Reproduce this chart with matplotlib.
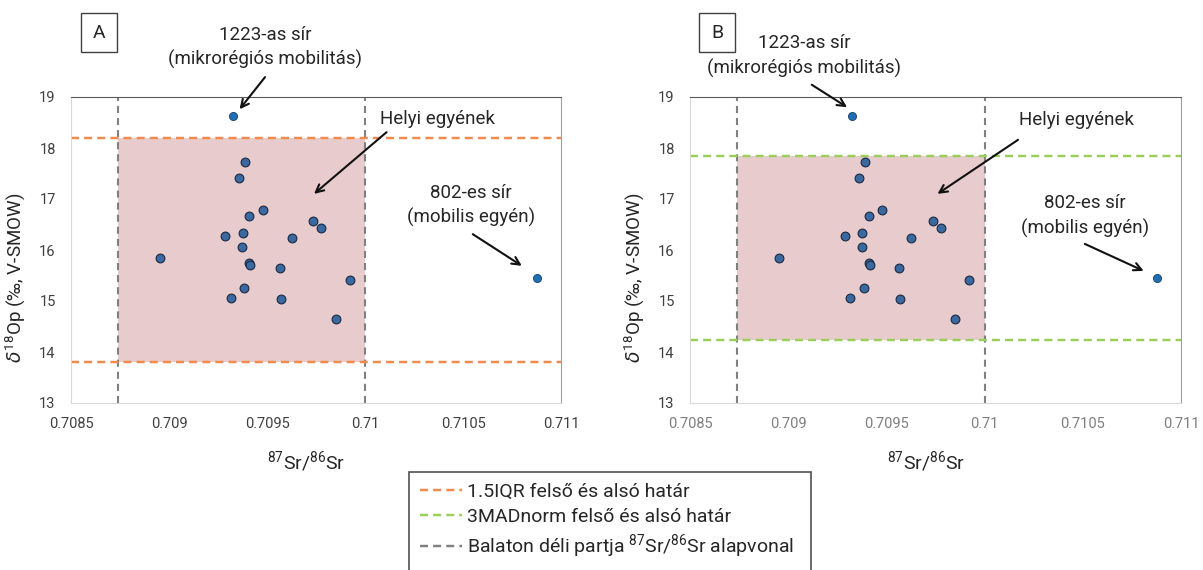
import matplotlib
matplotlib.use('Agg')
import matplotlib.pyplot as plt
from matplotlib.lines import Line2D
from matplotlib.patches import Rectangle

plt.rcParams['font.family'] = ['Roboto', 'DejaVu Sans']
plt.rcParams['mathtext.fontset'] = 'custom'
plt.rcParams['mathtext.rm'] = 'Roboto'
plt.rcParams['mathtext.it'] = 'DejaVu Sans:italic'
plt.rcParams['mathtext.default'] = 'regular'

# local individuals (87Sr/86Sr, d18Op)
local_sr = [0.709389, 0.709358, 0.709480, 0.709410, 0.709735, 0.709776, 0.709376,
            0.709288, 0.709626, 0.709374, 0.708954, 0.709409, 0.709414, 0.709566,
            0.709923, 0.709385, 0.709316, 0.709569, 0.709850]
local_o = [17.73, 17.42, 16.78, 16.66, 16.56, 16.44, 16.34, 16.27, 16.23, 16.05,
           15.85, 15.75, 15.71, 15.65, 15.41, 15.25, 15.05, 15.03, 14.65]

# outliers: grave 1223 and grave 802
out_sr = [0.709327, 0.710878]
out_o = [18.63, 15.45]

# baseline and limits
sr_base = [0.708740, 0.710000]
iqr_limits = [13.80, 18.20]
mad_limits = [14.24, 17.85]

xticks = [0.7085, 0.709, 0.7095, 0.71, 0.7105, 0.711]
xticklabels = ['0.7085', '0.709', '0.7095', '0.71', '0.7105', '0.711']
yticks = [13, 14, 15, 16, 17, 18, 19]

orange = '#F28A4C'
green = '#9ACD5A'
grey = '#808080'

fig = plt.figure(figsize=(12.03, 5.70), dpi=100)

W, H = 1203, 570


def panel(left_px, right_px, limits, lcolor, xlab_color, label, box_px, texts, arrows):
    ax = fig.add_axes([left_px / W, (H - 403) / H, (right_px - left_px) / W, 306 / H])
    ax.set_xlim(0.7085, 0.711)
    ax.set_ylim(13, 19)
    ax.add_patch(Rectangle((sr_base[0], limits[0]), sr_base[1] - sr_base[0],
                           limits[1] - limits[0], facecolor='#E8CCCD', edgecolor='none', zorder=1))
    for v in sr_base:
        ax.axvline(v, color=grey, lw=1.5, dashes=(3.4, 2.4), zorder=2)
    for h in limits:
        ax.axhline(h, color=lcolor, lw=1.75, dashes=(3.3, 2.1), zorder=2)
    ax.scatter(local_sr, local_o, s=40, facecolor='#3A68A0', edgecolor='#1C2940',
               linewidth=0.8, zorder=4)
    ax.scatter(out_sr, out_o, s=34, facecolor='#1F6FB8', edgecolor='#1A3D66',
               linewidth=0.6, zorder=4)
    ax.set_xticks(xticks)
    ax.set_xticklabels(xticklabels)
    ax.set_yticks(yticks)
    ax.tick_params(length=0, labelsize=10.5)
    ax.tick_params(axis='x', pad=10, labelcolor=xlab_color)
    ax.tick_params(axis='y', pad=11, labelcolor='#404040')
    ax.spines['left'].set_color('#D9D9D9')
    ax.spines['bottom'].set_color('#D9D9D9')
    ax.spines['top'].set_color('#5A5A5A')
    ax.spines['right'].set_color('#A0A0A0')
    ax.set_xlabel(r'$^{87}$Sr/$^{86}$Sr', fontsize=14, color='#262626', labelpad=11)
    ax.xaxis.set_label_coords(0.48, -0.15)
    ax.set_ylabel(r'$\mathit{\delta}^{18}$Op (‰, V-SMOW)', fontsize=13.5, color='#262626')
    ax.yaxis.set_label_coords(-0.09, 0.41)

    for txt, tx, ty in texts:
        ax.annotate(txt, xy=(tx, ty), ha='center', va='center', fontsize=13.5,
                    color='#262626', annotation_clip=False)
    ap = dict(arrowstyle='->', color='#111111', lw=1.5, mutation_scale=14, shrinkA=0, shrinkB=0)
    for ax0, ay0, ax1, ay1 in arrows:
        ax.annotate('', xy=(ax1, ay1), xytext=(ax0, ay0), arrowprops=ap, annotation_clip=False)

    x0, x1 = box_px
    fig.patches.append(Rectangle((x0 / W, (H - 52) / H), (x1 - x0) / W, 39 / H,
                                 transform=fig.transFigure, fill=False,
                                 edgecolor='#404040', lw=1.0))
    fig.text((x0 + x1) / 2 / W, (H - 33) / H, label, ha='center', va='center',
             fontsize=14, color='#262626')
    return ax


texts_a = [
    ('1223-as sír', 0.70949, 20.22),
    ('(mikrorégiós mobilitás)', 0.70949, 19.73),
    ('Helyi egyének', 0.71037, 18.57),
    ('802-es sír', 0.71054, 17.12),
    ('(mobilis egyén)', 0.71054, 16.63),
]
arrows_a = [
    (0.70949, 19.39, 0.70936, 18.76),
    (0.71011, 18.31, 0.70974, 17.10),
    (0.71055, 16.31, 0.71080, 15.69),
]
texts_b = [
    ('1223-as sír', 0.70908, 20.06),
    ('(mikrorégiós mobilitás)', 0.70908, 19.57),
    ('Helyi egyének', 0.71047, 18.55),
    ('802-es sír', 0.71051, 16.92),
    ('(mobilis egyén)', 0.71051, 16.43),
]
arrows_b = [
    (0.70912, 19.24, 0.70930, 18.80),
    (0.71017, 18.16, 0.70976, 17.10),
    (0.71051, 16.12, 0.71081, 15.59),
]

panel(71, 561, iqr_limits, orange, '#404040', 'A', (81, 117), texts_a, arrows_a)
panel(690, 1181, mad_limits, green, '#7F7F7F', 'B', (699, 735), texts_b, arrows_b)

handles = [
    Line2D([], [], color=orange, lw=1.75, dashes=(3.3, 2.1)),
    Line2D([], [], color=green, lw=1.75, dashes=(3.3, 2.1)),
    Line2D([], [], color=grey, lw=1.75, dashes=(3.3, 2.1)),
]
labels = ['1.5IQR felső és alsó határ', '3MADnorm felső és alsó határ',
          r'Balaton déli partja $^{87}$Sr/$^{86}$Sr alapvonal']
leg = fig.legend(handles, labels, loc='upper left',
                 bbox_to_anchor=(409 / W, 0, 402 / W, (H - 472) / H), mode='expand',
                 borderaxespad=0, fontsize=14, frameon=True, fancybox=False,
                 handlelength=2.15, handletextpad=0.28, borderpad=0.55, labelspacing=0.35)
leg.get_frame().set_edgecolor('#262626')
leg.get_frame().set_linewidth(1.2)
for t in leg.get_texts():
    t.set_color('#262626')

fig.savefig('out.png', dpi=100)
